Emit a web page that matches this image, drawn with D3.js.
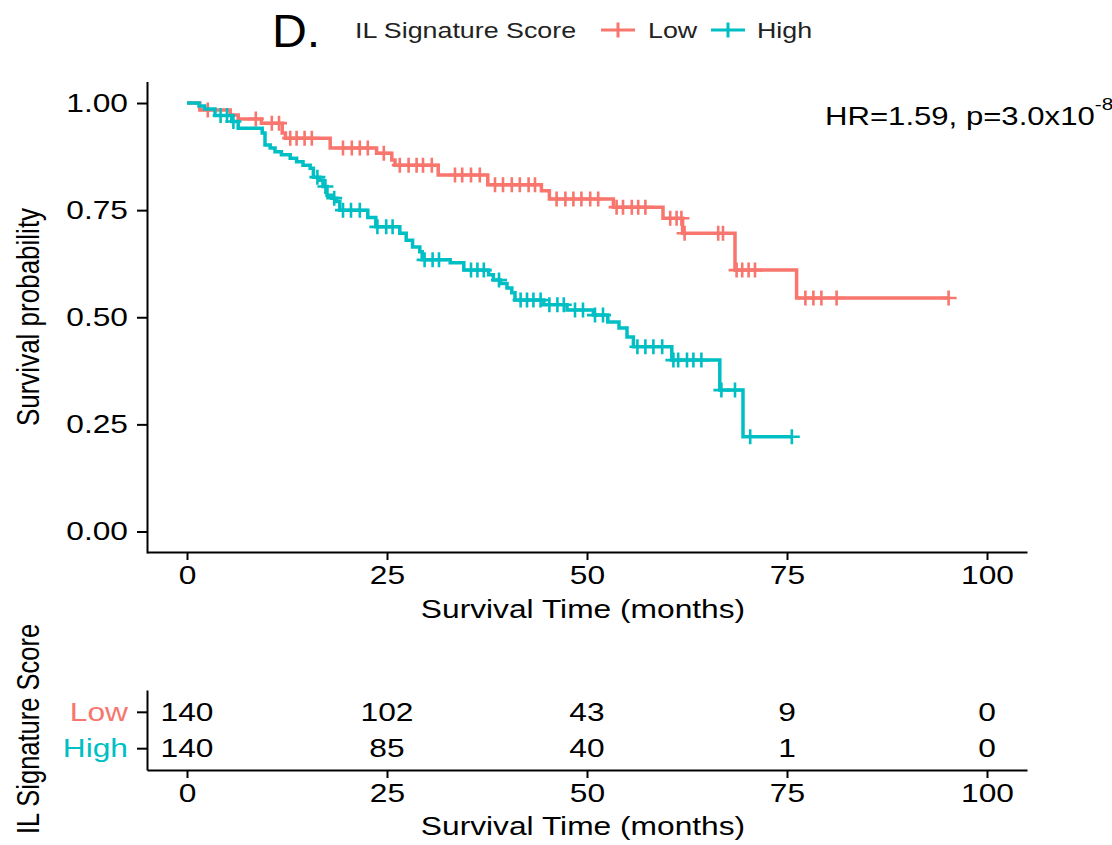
<!DOCTYPE html>
<html>
<head>
<meta charset="utf-8">
<script src="https://cdn.jsdelivr.net/npm/d3@7"></script>
<style>
  html, body { margin: 0; padding: 0; background: #fff; }
  svg { display: block; }
  text { font-family: "Liberation Sans", Arial, Helvetica, sans-serif; }
</style>
</head>
<body>
<svg id="chart" width="1112" height="845"></svg>
<script>
// Kaplan-Meier curves for IL signature score groups (step times in months, survival after each step)
const lowTime = [0, 1.6, 5.4, 6.4, 9.3, 11.9, 12.3, 17.9, 23.7, 25.6, 26.0, 31.4, 37.6, 44.3, 45.3, 53.3, 59.5, 61.95, 68.5, 76.2];
const lowSurv = [1, 0.984, 0.972, 0.963, 0.953, 0.930, 0.918, 0.895, 0.883, 0.867, 0.855, 0.832, 0.809, 0.795, 0.776, 0.757, 0.731, 0.696, 0.610, 0.545];
const lowCensor = [2.6, 8.6, 10.6, 11.5, 12.9, 13.7, 14.7, 15.6, 19.5, 20.6, 21.6, 22.6, 24.6, 26.6, 27.7, 28.7, 29.5, 30.6,
  33.5, 34.4, 35.5, 36.6, 38.5, 39.5, 40.6, 41.6, 42.7, 43.5, 46.2, 47.3, 48.3, 49.3, 50.4, 51.4, 53.7, 54.5, 55.6, 56.4, 57.3,
  60.4, 61.2, 61.8, 62.2, 66.4, 67.0, 68.7, 69.4, 70.2, 71.0, 77.3, 78.3, 79.3, 81.2, 95.2];

const highTime = [0, 1.5, 2.2, 3.5, 5.6, 6.4, 9.4, 9.75, 10.4, 11.0, 11.8, 12.9, 13.7, 14.5, 15.4, 15.8, 16.6, 17.0, 17.5, 18.1,
  18.7, 19.1, 22.6, 23.6, 26.6, 27.4, 28.2, 29.1, 29.4, 32.9, 34.6, 37.7, 38.3, 39.2, 40.0, 40.6, 41.0, 44.6, 47.5, 50.8, 52.6,
  54.0, 55.0, 55.8, 60.6, 66.6, 69.5];
const highSurv = [1, 0.993, 0.986, 0.971, 0.957, 0.941, 0.930, 0.902, 0.895, 0.886, 0.879, 0.871, 0.863, 0.855, 0.848, 0.827,
  0.820, 0.805, 0.785, 0.778, 0.770, 0.750, 0.733, 0.711, 0.696, 0.680, 0.664, 0.653, 0.634, 0.627, 0.610, 0.599, 0.587, 0.579,
  0.568, 0.557, 0.540, 0.529, 0.517, 0.505, 0.489, 0.475, 0.454, 0.431, 0.400, 0.330, 0.221];
const highCensor = [4.2, 5.0, 5.8, 16.3, 17.3, 18.4, 19.5, 20.5, 21.6, 23.8, 24.9, 25.7, 29.7, 30.7, 31.5, 35.5, 36.3, 37.1, 39.0,
  41.7, 42.5, 43.3, 44.2, 45.3, 46.3, 47.1, 48.5, 49.5, 51.0, 52.0, 56.3, 57.3, 58.3, 59.4, 60.8, 61.4, 62.5, 63.3, 64.3, 66.8,
  68.5, 70.4, 75.6];

// Number at risk table
const riskTimes = [0, 25, 50, 75, 100];
const riskLow = [140, 102, 43, 9, 0];
const riskHigh = [140, 85, 40, 1, 0];

const strata = ["Low", "High"];
const xTicks = [0, 25, 50, 75, 100];
const yTicks = [0, 0.25, 0.5, 0.75, 1];

const COLORS = { Low: "#F8766D", High: "#00BFC4" };
const SX = 1.22; // horizontal text stretch of the exported figure

const svg = d3.select("#chart");
svg.append("rect").attr("width", 1112).attr("height", 845).attr("fill", "#fff");

const x = d3.scaleLinear().domain([-5, 105]).range([147, 1027]);
const y = d3.scaleLinear().domain([-0.05, 1.05]).range([552.9, 81.6]);

function label(g, px, py, str, size, anchor, color, sx) {
  return g.append("text")
    .attr("transform", `translate(${px},${py}) scale(${sx || SX},1)`)
    .attr("text-anchor", anchor || "start")
    .attr("font-size", size)
    .attr("fill", color || "#000")
    .text(str);
}

function styleAxis(g, side, pad) {
  g.select(".domain").attr("stroke", "#000").attr("stroke-width", 2);
  g.selectAll(".tick line").attr("stroke", "#000").attr("stroke-width", 2);
  g.selectAll(".tick text").attr("font-size", 26).attr("fill", "#000")
    .attr("font-family", '"Liberation Sans", Arial, sans-serif');
  if (side === "left") {
    g.selectAll(".tick text").attr("x", null).attr("transform", `translate(${-pad},0) scale(${SX},1)`);
  }
}

// ---- survival plot ----
const plot = svg.append("g");

const yAxis = plot.append("g").attr("transform", "translate(147,0)")
  .call(d3.axisLeft(y).tickValues(yTicks).tickFormat(d3.format(".2f")).tickSize(10).tickSizeOuter(0));
styleAxis(yAxis, "left", 19);

const xAxis = plot.append("g").attr("transform", "translate(0,552)")
  .call(d3.axisBottom(x).tickValues(xTicks).tickFormat(d3.format("d")).tickSize(8).tickSizeOuter(0).tickPadding(6));
styleAxis(xAxis, "bottom");
xAxis.selectAll(".tick text").attr("transform", `scale(${SX},1)`);

label(plot, 583, 618, "Survival Time (months)", 26, "middle");
plot.append("text")
  .attr("transform", `translate(39,317) scale(${SX},1) rotate(-90)`)
  .attr("text-anchor", "middle").attr("font-size", 26).attr("fill", "#000")
  .text("Survival probability");

function stepAt(times, surv, t) {
  const i = d3.bisectRight(times, t) - 1;
  return surv[Math.max(0, i)];
}

const line = d3.line().x(d => x(d[0])).y(d => y(d[1])).curve(d3.curveStepAfter);

const groups = [
  { name: "Low", time: lowTime, surv: lowSurv, censor: lowCensor },
  { name: "High", time: highTime, surv: highSurv, censor: highCensor }
];

groups.forEach(gr => {
  const pts = gr.time.map((t, i) => [t, gr.surv[i]]);
  const tEnd = d3.max(gr.censor.concat(gr.time));
  pts.push([tEnd, stepAt(gr.time, gr.surv, tEnd)]);
  plot.append("path").datum(pts)
    .attr("d", line).attr("fill", "none")
    .attr("stroke", COLORS[gr.name]).attr("stroke-width", 3.5);
  plot.append("g").selectAll("path").data(gr.censor).join("path")
    .attr("d", t => {
      const cx = x(t), cy = y(stepAt(gr.time, gr.surv, t));
      return `M${cx - 8},${cy}H${cx + 8}M${cx},${cy - 7.5}V${cy + 7.5}`;
    })
    .attr("stroke", COLORS[gr.name]).attr("stroke-width", 2.6).attr("fill", "none");
});

// HR annotation
const hr = plot.append("text")
  .attr("transform", `translate(825,125) scale(${SX},1)`)
  .attr("font-size", 25.5).attr("fill", "#000");
hr.append("tspan").text("HR=1.59, p=3.0x10");
hr.append("tspan").attr("font-size", 17).attr("dy", -15).text("-8");

// ---- legend ----
const leg = svg.append("g");
label(leg, 272, 47, "D.", 46, "start", "#000", 1.05);
label(leg, 355, 38, "IL Signature Score", 22, "start", "#222");
const keys = [{ name: "Low", x0: 601, tx: 648 }, { name: "High", x0: 711, tx: 757 }];
keys.forEach(k => {
  leg.append("path")
    .attr("d", `M${k.x0},30H${k.x0 + 34}M${k.x0 + 17},22.5V37.5`)
    .attr("stroke", COLORS[k.name]).attr("stroke-width", 3).attr("fill", "none");
  label(leg, k.tx, 38, k.name, 22, "start", "#222");
});

// ---- number at risk table ----
const risk = svg.append("g");
const yr = d3.scalePoint().domain(strata).range([690, 770]).padding(0.6);

const ryAxis = risk.append("g").attr("transform", "translate(147,0)")
  .call(d3.axisLeft(yr).tickSize(10).tickSizeOuter(0));
styleAxis(ryAxis, "left", 19);
ryAxis.selectAll(".tick text").attr("fill", d => COLORS[d]);

const rxAxis = risk.append("g").attr("transform", "translate(0,770)")
  .call(d3.axisBottom(x).tickValues(xTicks).tickFormat(d3.format("d")).tickSize(8).tickSizeOuter(0).tickPadding(6));
styleAxis(rxAxis, "bottom");
rxAxis.selectAll(".tick text").attr("transform", `scale(${SX},1)`);

const riskRows = [{ name: "Low", vals: riskLow }, { name: "High", vals: riskHigh }];
riskRows.forEach(r => {
  r.vals.forEach((v, i) => {
    label(risk, x(riskTimes[i]), yr(r.name) + 9, String(v), 26, "middle", "#000");
  });
});

label(risk, 583, 835, "Survival Time (months)", 26, "middle");
risk.append("text")
  .attr("transform", `translate(39,729) scale(${SX},1) rotate(-90)`)
  .attr("text-anchor", "middle").attr("font-size", 25.5).attr("fill", "#000")
  .text("IL Signature Score");
</script>
</body>
</html>
